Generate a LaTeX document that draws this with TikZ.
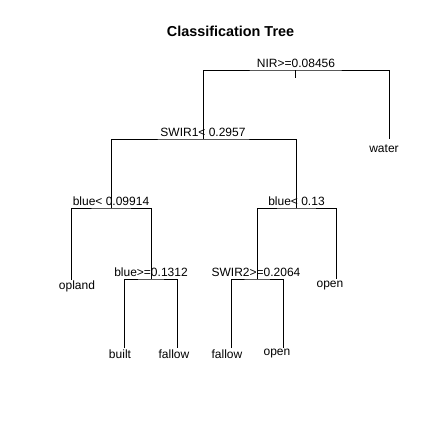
\documentclass[tikz,border=0pt]{standalone}
\usepackage{fontspec}
\setmainfont{Liberation Sans}
\begin{document}
\begin{tikzpicture}[x=1pt,y=-1pt,
  branch/.style={line width=0.9pt,black},
  lbl/.style={inner sep=0pt,anchor=base,font=\fontsize{12}{14}\selectfont},
  ttl/.style={inner sep=0pt,anchor=base,font=\fontsize{14.4}{17}\selectfont\bfseries}]
\useasboundingbox[fill=white] (0,0) rectangle (432,432);
% title
\node[ttl] (title) at (230.5,36) {Classification Tree};
% split points
\coordinate (root) at (295,70);
\coordinate (roottick) at (295,77.5);
\coordinate (swir1) at (203,139);
\coordinate (water) at (389,139);
\coordinate (blueA) at (111,208);
\coordinate (blueC) at (296,208);
\coordinate (crop) at (71,280);
\coordinate (blueB) at (151,279);
\coordinate (built) at (124,348);
\coordinate (fallowA) at (177,348);
\coordinate (swir2) at (257,279);
\coordinate (openA) at (336,279);
\coordinate (fallowB) at (231,348);
\coordinate (openB) at (283,348);
% branches
\draw[branch] (root) -- (roottick);
\draw[branch] (swir1) |- (root) -| (water);
\draw[branch] (blueA) |- (swir1) -| (blueC);
\draw[branch] (crop) |- (blueA) -| (blueB);
\draw[branch] (built) |- (blueB) -| (fallowA);
\draw[branch] (swir2) |- (blueC) -| (openA);
\draw[branch] (fallowB) |- (swir2) -| (openB);
% split labels
\node[lbl] (lroot) at (296,67.5) {NIR>=0.08456};
\node[lbl] (lswir1) at (203,136.5) {SWIR1< 0.2957};
\node[lbl] (lblueA) at (111,205.5) {blue< 0.09914};
\node[lbl] (lblueC) at (296.5,205.5) {blue< 0.13};
\node[lbl] (lblueB) at (151,276.5) {blue>=0.1312};
\node[lbl] (lswir2) at (256,276.5) {SWIR2>=0.2064};
% leaf labels
\node[lbl] (lwater) at (384,152) {water};
\node[lbl] (lopenA) at (330,287.5) {open};
\begin{scope}
\clip (59.5,270) rectangle (110,300);
\node[lbl] (lcrop) at (72,289.5) {cropland};
\end{scope}
\node[lbl] (lbuilt) at (120,358) {built};
\node[lbl] (lfallowA) at (174,358.5) {fallow};
\node[lbl] (lfallowB) at (227,358.5) {fallow};
\node[lbl] (lopenB) at (277,355) {open};
\end{tikzpicture}
\end{document}
